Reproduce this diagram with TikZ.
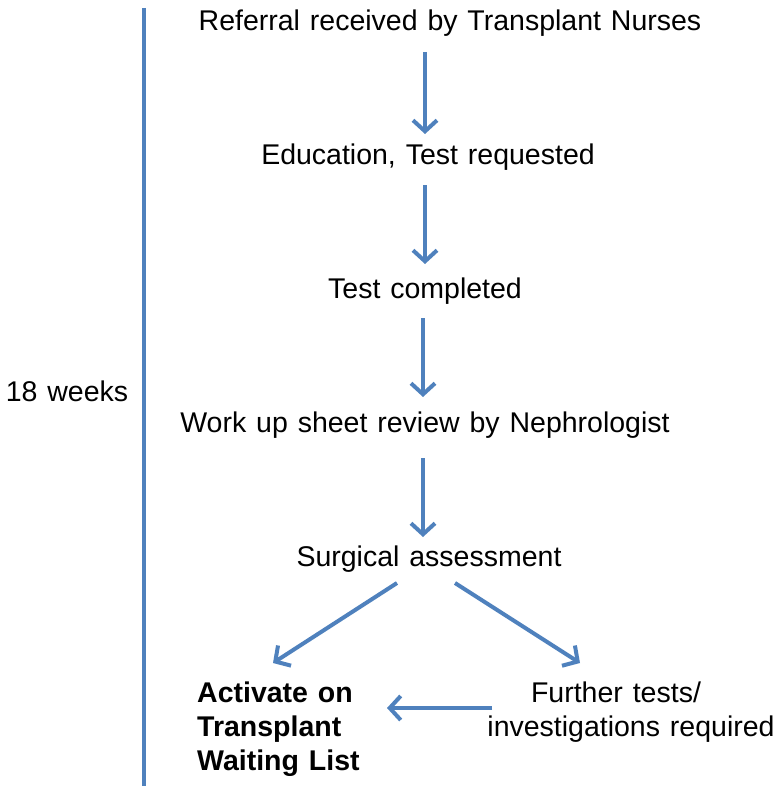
\documentclass[tikz,border=0pt]{standalone}
\usepackage{fontspec}
\setmainfont{Liberation Sans}[WordSpace={1.25}]
\usetikzlibrary{arrows.meta}
\definecolor{ablue}{HTML}{4F81BD}
\begin{document}
\begin{tikzpicture}[x=1pt,y=-1pt,
  lbl/.style={font=\fontsize{28.5}{34}\selectfont, inner sep=0pt, anchor=center},
  flow/.style={draw=ablue, line width=4pt, -{Straight Barb[length=11pt,width=24pt]}}]
\useasboundingbox (0,0) rectangle (779,789);
\draw[ablue, line width=4pt] (144,8) coordinate (t) -- (144,786) coordinate (b);
\node[lbl] (w) at (67,391) {18 weeks};
\node[lbl] (n1) at (450,23) {Referral received by Transplant Nurses};
\node[lbl] (n2) at (428,157) {Education, Test requested};
\node[lbl] (n3) at (425,291) {Test completed};
\node[lbl] (n4) at (425,425) {Work up sheet review by Nephrologist};
\node[lbl] (n5) at (429,559) {Surgical assessment};
\node[lbl, font=\fontsize{28.5}{34}\bfseries\selectfont, align=left, anchor=north west] (a) at (197,682) {Activate on\\Transplant\\Waiting List};
\node[lbl, align=center, anchor=north] (f) at (631,682) {Further tests/\hspace*{30pt}\\investigations required};
\coordinate (a1s) at (425,52); \coordinate (a1e) at (425,134);
\coordinate (a2s) at (425,185); \coordinate (a2e) at (425,264);
\coordinate (a3s) at (423,318); \coordinate (a3e) at (423,397);
\coordinate (a4s) at (423,458); \coordinate (a4e) at (423,537);
\draw[flow] (a1s) -- (a1e);
\draw[flow] (a2s) -- (a2e);
\draw[flow] (a3s) -- (a3e);
\draw[flow] (a4s) -- (a4e);
\coordinate (dls) at (397,583); \coordinate (dle) at (273,663);
\coordinate (drs) at (455,583); \coordinate (dre) at (580,663);
\draw[flow] (dls) -- (dle);
\draw[flow] (drs) -- (dre);
\coordinate (hs) at (492,708); \coordinate (he) at (387,708);
\draw[flow] (hs) -- (he);
\end{tikzpicture}
\end{document}
